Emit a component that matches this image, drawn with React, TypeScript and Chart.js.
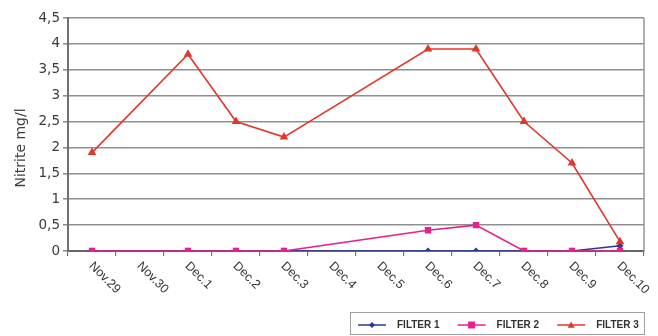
import React, { useEffect, useRef } from 'react';
import { Chart, registerables } from 'chart.js';

Chart.register(...registerables);

const categories = ['Nov.29', 'Nov.30', 'Dec.1', 'Dec.2', 'Dec.3', 'Dec.4', 'Dec.5', 'Dec.6', 'Dec.7', 'Dec.8', 'Dec.9', 'Dec.10'];
const filter1 = [0, null, 0, 0, 0, null, null, 0, 0, 0, 0, 0.1];
const filter2 = [0, null, 0, 0, 0, null, null, 0.4, 0.5, 0, 0, 0];
const filter3 = [1.9, null, 3.8, 2.5, 2.2, null, null, 3.9, 3.9, 2.5, 1.7, 0.18];
const seriesNames = ['FILTER 1', 'FILTER 2', 'FILTER 3'];
const seriesColors = ['#2b3990', '#e8208c', '#e2362b'];
const seriesMarkers = ['rectRot', 'rect', 'triangle'];
const yTitle = 'Nitrite mg/l';
const yMin = 0;
const yMax = 4.5;
const yStep = 0.5;

function drawMarker(ctx: CanvasRenderingContext2D, style: string, x: number, y: number, r: number, color: string) {
  ctx.save();
  ctx.fillStyle = color;
  ctx.beginPath();
  if (style === 'rectRot') {
    ctx.moveTo(x, y - r);
    ctx.lineTo(x + r, y);
    ctx.lineTo(x, y + r);
    ctx.lineTo(x - r, y);
  } else if (style === 'rect') {
    ctx.rect(x - r, y - r, 2 * r, 2 * r);
  } else {
    ctx.moveTo(x, y - r);
    ctx.lineTo(x + r, y + r * 0.8);
    ctx.lineTo(x - r, y + r * 0.8);
  }
  ctx.closePath();
  ctx.fill();
  ctx.restore();
}

const customPlugin = {
  id: 'customDecor',
  afterDraw(chart: any) {
    const ctx: CanvasRenderingContext2D = chart.ctx;
    const area = chart.chartArea;
    const xs = chart.scales.x;

    // right border of plot area
    ctx.save();
    ctx.strokeStyle = '#959595';
    ctx.lineWidth = 1.5;
    ctx.beginPath();
    ctx.moveTo(area.right, area.top);
    ctx.lineTo(area.right, area.bottom);
    ctx.stroke();
    ctx.restore();

    // rotated x labels (clockwise)
    ctx.save();
    ctx.fillStyle = '#353535';
    ctx.font = '12.5px "Liberation Sans", Arial, sans-serif';
    ctx.textAlign = 'left';
    ctx.textBaseline = 'middle';
    (chart.data.labels as string[]).forEach((lab, i) => {
      const x = xs.getPixelForValue(i);
      ctx.save();
      ctx.translate(x - 1, area.bottom + 13);
      ctx.rotate(Math.PI / 4);
      ctx.fillText(lab, 0, 0);
      ctx.restore();
    });
    ctx.restore();

    // y title
    ctx.save();
    ctx.fillStyle = '#404040';
    ctx.font = '14px "DejaVu Sans", sans-serif';
    ctx.textAlign = 'center';
    ctx.textBaseline = 'middle';
    ctx.translate(21, 148);
    ctx.rotate(-Math.PI / 2);
    ctx.fillText(yTitle, 0, 0);
    ctx.restore();

    // legend with box
    ctx.save();
    const boxL = 350, boxT = 312, boxR = 645, boxB = 335;
    ctx.fillStyle = '#ffffff';
    ctx.fillRect(boxL, boxT, boxR - boxL, boxB - boxT);
    ctx.strokeStyle = '#a0a0a0';
    ctx.lineWidth = 1;
    ctx.strokeRect(boxL + 0.5, boxT + 0.5, boxR - boxL - 1, boxB - boxT - 1);
    ctx.font = 'bold 10px "Liberation Sans", Arial, sans-serif';
    ctx.textBaseline = 'middle';
    ctx.textAlign = 'left';
    let cx = 358;
    const cy = 325;
    chart.data.datasets.forEach((ds: any) => {
      ctx.strokeStyle = ds.borderColor;
      ctx.lineWidth = 1.5;
      ctx.beginPath();
      ctx.moveTo(cx, cy);
      ctx.lineTo(cx + 28, cy);
      ctx.stroke();
      drawMarker(ctx, ds.pointStyle, cx + 14, cy, ds.pointStyle === 'rectRot' ? 3 : 3.5, ds.borderColor);
      ctx.fillStyle = '#333333';
      const tx = cx + 39;
      ctx.fillText(ds.label, tx, cy + 0.5);
      cx = tx + ctx.measureText(ds.label).width + 18;
    });
    ctx.restore();
  },
};

export default function App() {
  const ref = useRef<HTMLCanvasElement | null>(null);

  useEffect(() => {
    if (!ref.current) return;
    const all = [filter1, filter2, filter3];
    const orders = [3, 2, 1];
    const radii = [3.5, 4.5, 5];
    const chart = new Chart(ref.current, {
      type: 'line',
      data: {
        labels: categories,
        datasets: all.map((d, i) => ({
          label: seriesNames[i],
          data: d,
          borderColor: seriesColors[i],
          backgroundColor: seriesColors[i],
          pointBackgroundColor: seriesColors[i],
          pointBorderColor: seriesColors[i],
          pointStyle: seriesMarkers[i],
          pointRadius: radii[i],
          pointBorderWidth: 0,
          borderWidth: 1.6,
          tension: 0,
          spanGaps: true,
          order: orders[i],
        })),
      },
      options: {
        responsive: false,
        animation: false,
        layout: { padding: { left: 0, top: 18, right: 14, bottom: 0 } },
        plugins: {
          legend: { display: false },
          tooltip: { enabled: false },
        },
        scales: {
          x: {
            type: 'category',
            offset: true,
            afterFit: (s: any) => {
              s.height = 85;
            },
            ticks: { display: false },
            grid: {
              display: true,
              drawOnChartArea: false,
              drawTicks: true,
              tickLength: 5,
              offset: true,
              color: '#777777',
              lineWidth: 1.2,
            },
            border: { display: true, color: '#666666', width: 2 },
          },
          y: {
            min: yMin,
            max: yMax,
            afterFit: (s: any) => {
              s.width = 68;
            },
            ticks: {
              stepSize: yStep,
              color: '#3a3a3a',
              padding: 3,
              font: { family: '"DejaVu Sans", sans-serif', size: 13.5 },
              callback: (v: any) => String(v).replace('.', ','),
            },
            grid: {
              color: '#8f8f8f',
              lineWidth: 1.6,
              tickLength: 5,
              drawTicks: true,
            },
            border: { display: true, color: '#707070', width: 2 },
          },
        },
      },
      plugins: [customPlugin],
    });
    return () => chart.destroy();
  }, []);

  return (
    <div style={{ position: 'fixed', left: 0, top: 0, width: 658, height: 336, background: '#ffffff' }}>
      <canvas ref={ref} width={658} height={336} style={{ width: 658, height: 336, display: 'block' }} />
    </div>
  );
}
